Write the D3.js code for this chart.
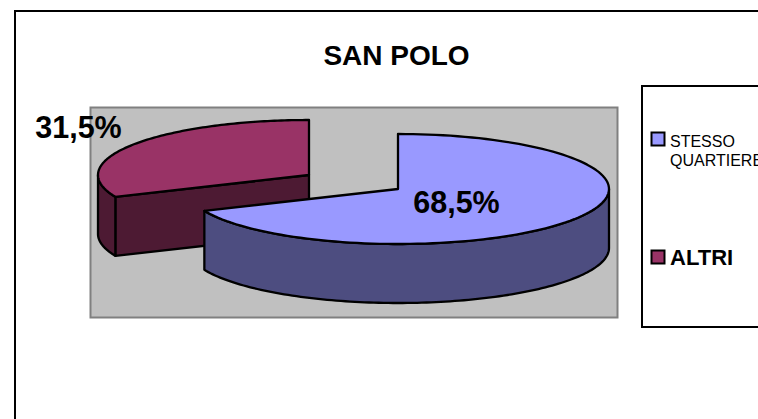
<!DOCTYPE html>
<html><head><meta charset="utf-8">
<script src="https://cdn.jsdelivr.net/npm/d3@7"></script>
<style>html,body{margin:0;padding:0;background:#fff;overflow:hidden}svg{display:block}text{font-family:"Liberation Sans",Arial,sans-serif;fill:#000}</style>
</head><body><svg id="c" width="758" height="419"></svg>
<script>
const title = "SAN POLO";
const categories = ["STESSO QUARTIERE", "ALTRI"];
const values = [68.5, 31.5];
const labels = ["68,5%", "31,5%"];
const topColors = ["#9999FF", "#993366"];
const sideColors = ["#4D4D80", "#4D1A33"];

const svg = d3.select("#c");
svg.append("rect").attr("x",15).attr("y",11).attr("width",800).attr("height",500).attr("fill","#fff").attr("stroke","#000").attr("stroke-width",2);
svg.append("rect").attr("x",90.5).attr("y",107.5).attr("width",527).attr("height",210).attr("fill","#C0C0C0").attr("stroke","#808080").attr("stroke-width",2);
svg.append("rect").attr("x",642).attr("y",86).attr("width",200).attr("height",241).attr("fill","#fff").attr("stroke","#000").attr("stroke-width",2);
svg.append("text").attr("x",396.5).attr("y",65).attr("text-anchor","middle").attr("font-size",28).attr("font-weight","bold").text(title);

const rx=211, ry=55, depth=59;
const centers=[[398,189],[309,175]];
const arcs=d3.pie().sort(null).startAngle(0).endAngle(2*Math.PI)(values);
const line=d3.line();
const pt=(i,a,dy=0)=>[centers[i][0]+rx*Math.sin(a),centers[i][1]-ry*Math.cos(a)+dy];
const samp=(a0,a1)=>d3.range(0,121).map(k=>a0+(a1-a0)*k/120);

function slice(i){
  const d=arcs[i], a0=d.startAngle, a1=d.endAngle;
  const c=centers[i];
  const g=svg.append("g").attr("stroke","#000").attr("stroke-width",2.3).attr("stroke-linejoin","round");
  const r0=Math.max(a0,Math.PI/2), r1=Math.min(a1,1.5*Math.PI);
  if(r1>r0 && i===0){
    const as=samp(r0,r1);
    g.append("path").attr("fill",sideColors[i]).attr("d",line(as.map(a=>pt(i,a)).concat(as.slice().reverse().map(a=>pt(i,a,depth))))+"Z");
  }
  if(i===1){
    const p=pt(i,a0);
    g.append("path").attr("fill",sideColors[i]).attr("d",line([p,c,[c[0],c[1]+depth],[p[0],p[1]+depth]])+"Z");
    const as=samp(a0,1.5*Math.PI);
    g.append("path").attr("fill",sideColors[i]).attr("d",line(as.map(a=>pt(i,a)).concat(as.slice().reverse().map(a=>pt(i,a,depth))))+"Z");
  }
  g.append("path").attr("fill",topColors[i]).attr("d",line([c].concat(samp(a0,a1).map(a=>pt(i,a))))+"Z");
}
slice(1); slice(0);

svg.append("text").attr("x",456.5).attr("y",213).attr("text-anchor","middle").attr("font-size",30.5).attr("font-weight","bold").text(labels[0]);
svg.append("text").attr("x",78.5).attr("y",138).attr("text-anchor","middle").attr("font-size",30.5).attr("font-weight","bold").text(labels[1]);

svg.append("rect").attr("x",651.5).attr("y",132.5).attr("width",13).attr("height",13).attr("fill",topColors[0]).attr("stroke","#000").attr("stroke-width",2);
svg.append("rect").attr("x",651.5).attr("y",250.5).attr("width",13).attr("height",13).attr("fill",topColors[1]).attr("stroke","#000").attr("stroke-width",2);
const [w1,w2]=categories[0].split(" ");
svg.append("text").attr("x",670).attr("y",147).attr("font-size",16).text(w1);
svg.append("text").attr("x",670).attr("y",166).attr("font-size",16).text(w2);
svg.append("text").attr("x",670).attr("y",265).attr("font-size",22).attr("font-weight","bold").text(categories[1]);
</script></body></html>
